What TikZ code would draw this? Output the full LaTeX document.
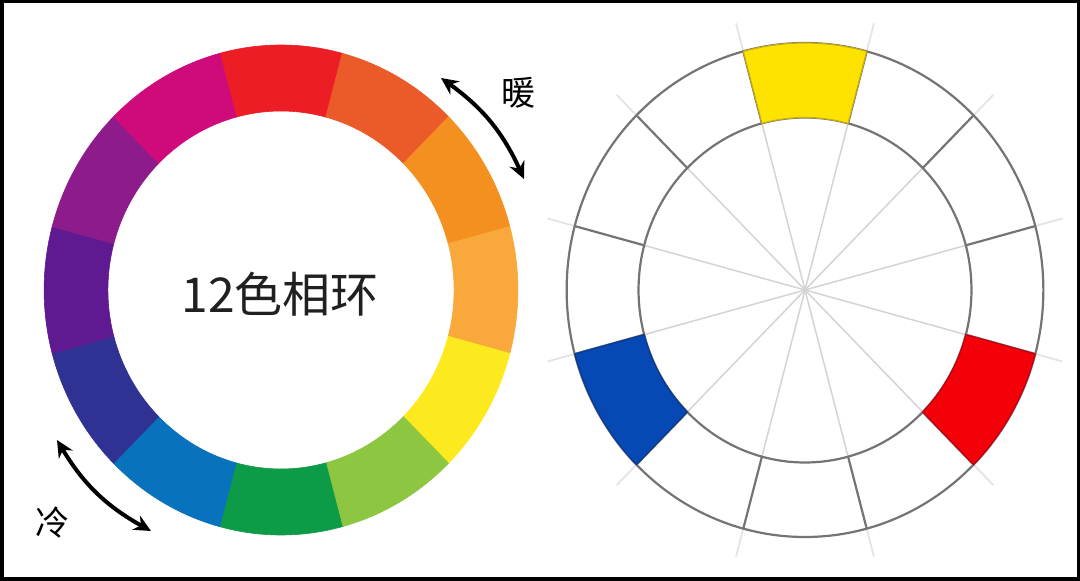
\documentclass[tikz,border=0pt]{standalone}
\usepackage{fontspec}
\newfontfamily\cjk{Noto Sans CJK SC}
\usetikzlibrary{arrows.meta}
\definecolor{cR}{HTML}{EC1D25}
\definecolor{cRO}{HTML}{EB5A29}
\definecolor{cO}{HTML}{F4901F}
\definecolor{cLO}{HTML}{F9A93B}
\definecolor{cY}{HTML}{FCEA1E}
\definecolor{cYG}{HTML}{8DC640}
\definecolor{cG}{HTML}{0E9B48}
\definecolor{cB}{HTML}{0872BC}
\definecolor{cBV}{HTML}{2F3193}
\definecolor{cV}{HTML}{601A91}
\definecolor{cP}{HTML}{8D1B8B}
\definecolor{cM}{HTML}{CF0A7B}
\definecolor{pY}{HTML}{FFE300}
\definecolor{pYe}{HTML}{C9AE10}
\definecolor{pB}{HTML}{0649B4}
\definecolor{pBe}{HTML}{0A3A8E}
\definecolor{pR}{HTML}{F40008}
\definecolor{pRe}{HTML}{C00010}
\definecolor{ringgray}{HTML}{747474}
\definecolor{spokegray}{HTML}{D4D4D4}
\definecolor{extgray}{HTML}{E4E4E4}
\definecolor{txt}{HTML}{202020}
\tikzset{
  seg/.style={line width=0.6pt, line join=round},
  ringline/.style={draw=ringgray, line width=2.2pt},
  spokeline/.style={draw=spokegray, line width=1.5pt},
  extline/.style={draw=extgray, line width=1.8pt},
  dblarrow/.style={line width=4pt, black, {Stealth[length=17pt,width=16pt]}-{Stealth[length=17pt,width=16pt]}},
  lbl/.style={inner sep=0pt, text=black, font=\cjk\fontsize{34}{36}\selectfont},
  title/.style={inner sep=0pt, text=txt, font=\cjk\fontsize{48}{50}\selectfont}
}
\begin{document}
\begin{tikzpicture}[x=1pt,y=1pt]
\useasboundingbox (0,0) rectangle (1080,581);
\fill[white] (0,0) rectangle (1080,581);

% ---- left: 12 hue wheel ----
\begin{scope}[shift={(281,291)}, xscale=0.967]
  \foreach \a/\c in {90/cR,60/cRO,30/cO,0/cLO,-30/cY,-60/cYG,-90/cG,-120/cB,-150/cBV,-180/cV,-210/cP,-240/cM}{
    \filldraw[seg, fill=\c, draw=\c]
      ({\a-15}:245) arc[start angle={\a-15}, end angle={\a+15}, radius=245]
      -- ({\a+15}:179) arc[start angle={\a+15}, end angle={\a-15}, radius=179] -- cycle;
  }
\end{scope}
\node[title] (t) at (280,287) {12色相环};

% warm / cold arrows
\coordinate (w1) at (441,503);
\coordinate (w2) at (524,402);
\draw[dblarrow] (w1) to[bend left=15] (w2);
\node[lbl] (warm) at (518,488) {暖};
\coordinate (c1) at (57,141);
\coordinate (c2) at (151,50);
\draw[dblarrow] (c1) to[bend right=15] (c2);
\node[lbl] (cold) at (52,58) {冷};

% ---- right: primary triad wheel ----
\begin{scope}[shift={(805,291)}, xscale=0.965]
  \foreach \a in {15,45,...,345}{
    \draw[extline] (\a:247) -- (\a:276);
  }
  \foreach \a in {15,45,...,165}{
    \draw[spokeline] (\a:172.5) -- ({\a+180}:172.5);
  }
  \draw[ringline] (0,0) circle[radius=247];
  \draw[ringline] (0,0) circle[radius=172.5];
  \foreach \a in {15,45,...,345}{
    \draw[ringline] (\a:172.5) -- (\a:247);
  }
  \foreach \a/\c/\e in {90/pY/pYe,210/pB/pBe,330/pR/pRe}{
    \filldraw[line width=1.2pt, line join=round, fill=\c, draw=\e]
      ({\a-15}:247) arc[start angle={\a-15}, end angle={\a+15}, radius=247]
      -- ({\a+15}:172.5) arc[start angle={\a+15}, end angle={\a-15}, radius=172.5] -- cycle;
  }
\end{scope}

% frame
\draw[line width=3.5pt, black] (1.75,1.75) rectangle (1078.25,579.25);
\end{tikzpicture}
\end{document}
